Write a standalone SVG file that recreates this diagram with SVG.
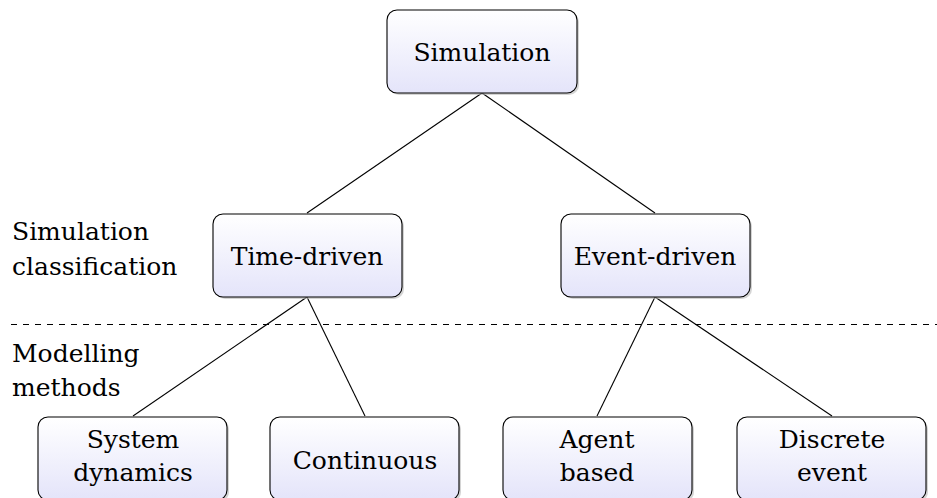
<svg xmlns="http://www.w3.org/2000/svg" width="937" height="498" viewBox="0 0 937 498">
  <defs>
    <linearGradient id="fill" x1="0" y1="0" x2="0" y2="1">
      <stop offset="0" stop-color="#ffffff"/>
      <stop offset="1" stop-color="#e4e4fa"/>
    </linearGradient>
  </defs>
  <style>
    .box { fill: url(#fill); stroke: #000; stroke-width: 1.1; }
    .shadow { fill: #b8b8b8; opacity: 0.6; }
    text { font-family: 'DejaVu Serif', serif; font-size: 25px; fill: #000; }
    .lbl { text-anchor: middle; }
    .edge { stroke: #000; stroke-width: 1.1; fill: none; }
    .sep { stroke: #000; stroke-width: 1; stroke-dasharray: 6 6; }
  </style>

  <!-- connectors -->
  <g id="edges">
    <line class="edge" x1="482" y1="93" x2="307" y2="213"/>
    <line class="edge" x1="482" y1="93" x2="655" y2="213"/>
    <line class="edge" x1="307" y1="297" x2="133" y2="416"/>
    <line class="edge" x1="307" y1="297" x2="365" y2="416"/>
    <line class="edge" x1="655" y1="297" x2="597" y2="416"/>
    <line class="edge" x1="655" y1="297" x2="832" y2="416"/>
  </g>

  <!-- level separator -->
  <line class="sep" x1="11" y1="324.5" x2="937" y2="324.5"/>

  <!-- side labels -->
  <g id="level-labels">
    <text x="12" y="240">Simulation</text>
    <text x="12" y="275">classification</text>
    <text x="12" y="362">Modelling</text>
    <text x="12" y="396">methods</text>
  </g>

  <g id="simulation">
    <rect class="shadow" x="389" y="12" width="190" height="83" rx="10"/>
    <rect class="box" x="387" y="10" width="190" height="83" rx="10"/>
    <text class="lbl" x="482" y="61">Simulation</text>
  </g>

  <g id="time-driven">
    <rect class="shadow" x="215" y="216" width="189" height="83" rx="10"/>
    <rect class="box" x="213" y="214" width="189" height="83" rx="10"/>
    <text class="lbl" x="307" y="265">Time-driven</text>
  </g>

  <g id="event-driven">
    <rect class="shadow" x="563" y="216" width="189" height="83" rx="10"/>
    <rect class="box" x="561" y="214" width="189" height="83" rx="10"/>
    <text class="lbl" x="655" y="265">Event-driven</text>
  </g>

  <g id="system-dynamics">
    <rect class="shadow" x="40" y="419" width="189" height="83" rx="10"/>
    <rect class="box" x="38" y="417" width="189" height="83" rx="10"/>
    <text class="lbl" x="133" y="448">System</text>
    <text class="lbl" x="133" y="481">dynamics</text>
  </g>

  <g id="continuous">
    <rect class="shadow" x="272" y="419" width="189" height="83" rx="10"/>
    <rect class="box" x="270" y="417" width="189" height="83" rx="10"/>
    <text class="lbl" x="365" y="469">Continuous</text>
  </g>

  <g id="agent-based">
    <rect class="shadow" x="505" y="419" width="189" height="83" rx="10"/>
    <rect class="box" x="503" y="417" width="189" height="83" rx="10"/>
    <text class="lbl" x="597" y="448">Agent</text>
    <text class="lbl" x="597" y="481">based</text>
  </g>

  <g id="discrete-event">
    <rect class="shadow" x="739" y="419" width="189" height="83" rx="10"/>
    <rect class="box" x="737" y="417" width="189" height="83" rx="10"/>
    <text class="lbl" x="832" y="448">Discrete</text>
    <text class="lbl" x="832" y="481">event</text>
  </g>
</svg>
